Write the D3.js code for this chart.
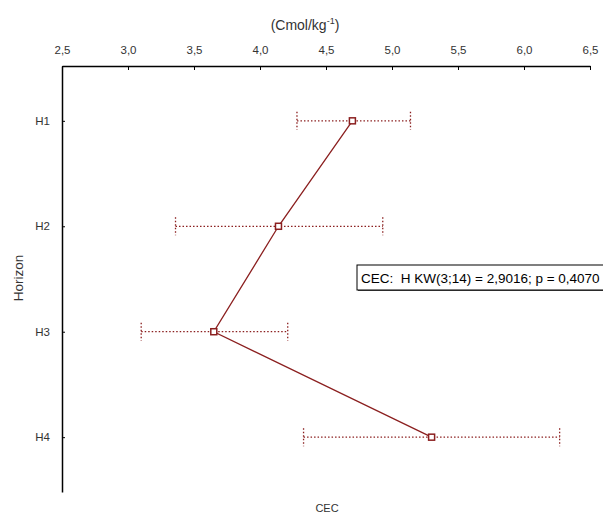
<!DOCTYPE html>
<html>
<head>
<meta charset="utf-8">
<script src="https://cdn.jsdelivr.net/npm/d3@7"></script>
<style>
  body { margin: 0; background: #fff; }
  text { font-family: "Liberation Sans", Arial, sans-serif; }
</style>
</head>
<body>
<div id="chart"></div>
<script>
const horizons = ["H1", "H2", "H3", "H4"];
const means = [4.70, 4.14, 3.65, 5.30];
const lower = [4.28, 3.36, 3.10, 4.33];
const upper = [5.14, 4.93, 4.21, 6.27];
const xTicks = [2.5, 3.0, 3.5, 4.0, 4.5, 5.0, 5.5, 6.0, 6.5];

const data = horizons.map((h, i) => ({h: h, m: means[i], lo: lower[i], hi: upper[i]}));

const width = 603, height = 520,
    margin = ({top: 66, right: 13, bottom: 28, left: 62});

const red = "#8b1f1f";

let svg = d3.select("#chart")
    .append("svg")
    .attr("width", width)
    .attr("height", height);

let x = d3.scaleLinear()
    .domain([2.5, 6.5])
    .range([margin.left, width - margin.right]);

let y = d3.scalePoint()
    .domain(horizons)
    .range([margin.top, height - margin.bottom])
    .padding(0.52);

const fmt = d => d3.format(".1f")(d).replace(".", ",");

const xAxis = g => g
    .attr("transform", `translate(0,${margin.top})`)
    .call(d3.axisTop(x).tickValues(xTicks).tickFormat(fmt).tickSize(-4).tickPadding(12).tickSizeOuter(0));

const yAxis = g => g
    .attr("transform", `translate(${margin.left},0)`)
    .call(d3.axisLeft(y).tickSize(-3).tickPadding(12).tickSizeOuter(0));

svg.append("g").call(xAxis);
svg.append("g").call(yAxis);

svg.selectAll(".domain").attr("stroke", "#000").attr("stroke-width", 1.5);
svg.selectAll(".tick line").attr("stroke", "#000");
svg.selectAll(".tick text").attr("fill", "#333").style("font-size", "11.5px");

// titles
let t = svg.append("text")
    .attr("x", 305)
    .attr("y", 30)
    .attr("text-anchor", "middle")
    .attr("fill", "#333")
    .style("font-size", "14px");
t.append("tspan").text("(Cmol/kg");
t.append("tspan").attr("dy", -6).style("font-size", "9px").text("-1");
t.append("tspan").attr("dy", 6).text(")");

svg.append("text")
    .attr("x", 327)
    .attr("y", 512)
    .attr("text-anchor", "middle")
    .attr("fill", "#333")
    .style("font-size", "11px")
    .text("CEC");

svg.append("text")
    .attr("transform", `translate(23,278) rotate(-90)`)
    .attr("text-anchor", "middle")
    .attr("fill", "#333")
    .style("font-size", "13.5px")
    .text("Horizon");

// error bars
let err = svg.selectAll(".err")
    .data(data)
    .join("g")
    .attr("class", "err")
    .attr("stroke", red)
    .attr("stroke-width", 1.3)
    .attr("stroke-dasharray", "1.5,2");

err.append("line")
    .attr("x1", d => x(d.lo))
    .attr("x2", d => x(d.hi))
    .attr("y1", d => y(d.h))
    .attr("y2", d => y(d.h));

err.append("line")
    .attr("x1", d => x(d.lo))
    .attr("x2", d => x(d.lo))
    .attr("y1", d => y(d.h) - 9)
    .attr("y2", d => y(d.h) + 9);

err.append("line")
    .attr("x1", d => x(d.hi))
    .attr("x2", d => x(d.hi))
    .attr("y1", d => y(d.h) - 9)
    .attr("y2", d => y(d.h) + 9);

// mean line
svg.append("path")
    .datum(data)
    .attr("fill", "none")
    .attr("stroke", red)
    .attr("stroke-width", 1.3)
    .attr("d", d3.line().x(d => x(d.m)).y(d => y(d.h)));

svg.selectAll(".pt")
    .data(data)
    .join("rect")
    .attr("class", "pt")
    .attr("x", d => x(d.m) - 3)
    .attr("y", d => y(d.h) - 3)
    .attr("width", 6)
    .attr("height", 6)
    .attr("fill", "#fff")
    .attr("stroke", red)
    .attr("stroke-width", 1.5);

// stats box
let box = svg.append("g").attr("transform", "translate(357,265)");
box.append("rect")
    .attr("x", 1).attr("y", 1)
    .attr("width", 260).attr("height", 25)
    .attr("fill", "#555");
box.append("rect")
    .attr("width", 260).attr("height", 25)
    .attr("fill", "#fff")
    .attr("stroke", "#000")
    .attr("stroke-width", 1);
box.append("text")
    .attr("x", 4)
    .attr("y", 18)
    .attr("fill", "#000")
    .style("font-size", "13.5px")
    .style("white-space", "pre")
    .text("CEC:  H KW(3;14) = 2,9016; p = 0,4070");
</script>
</body>
</html>
